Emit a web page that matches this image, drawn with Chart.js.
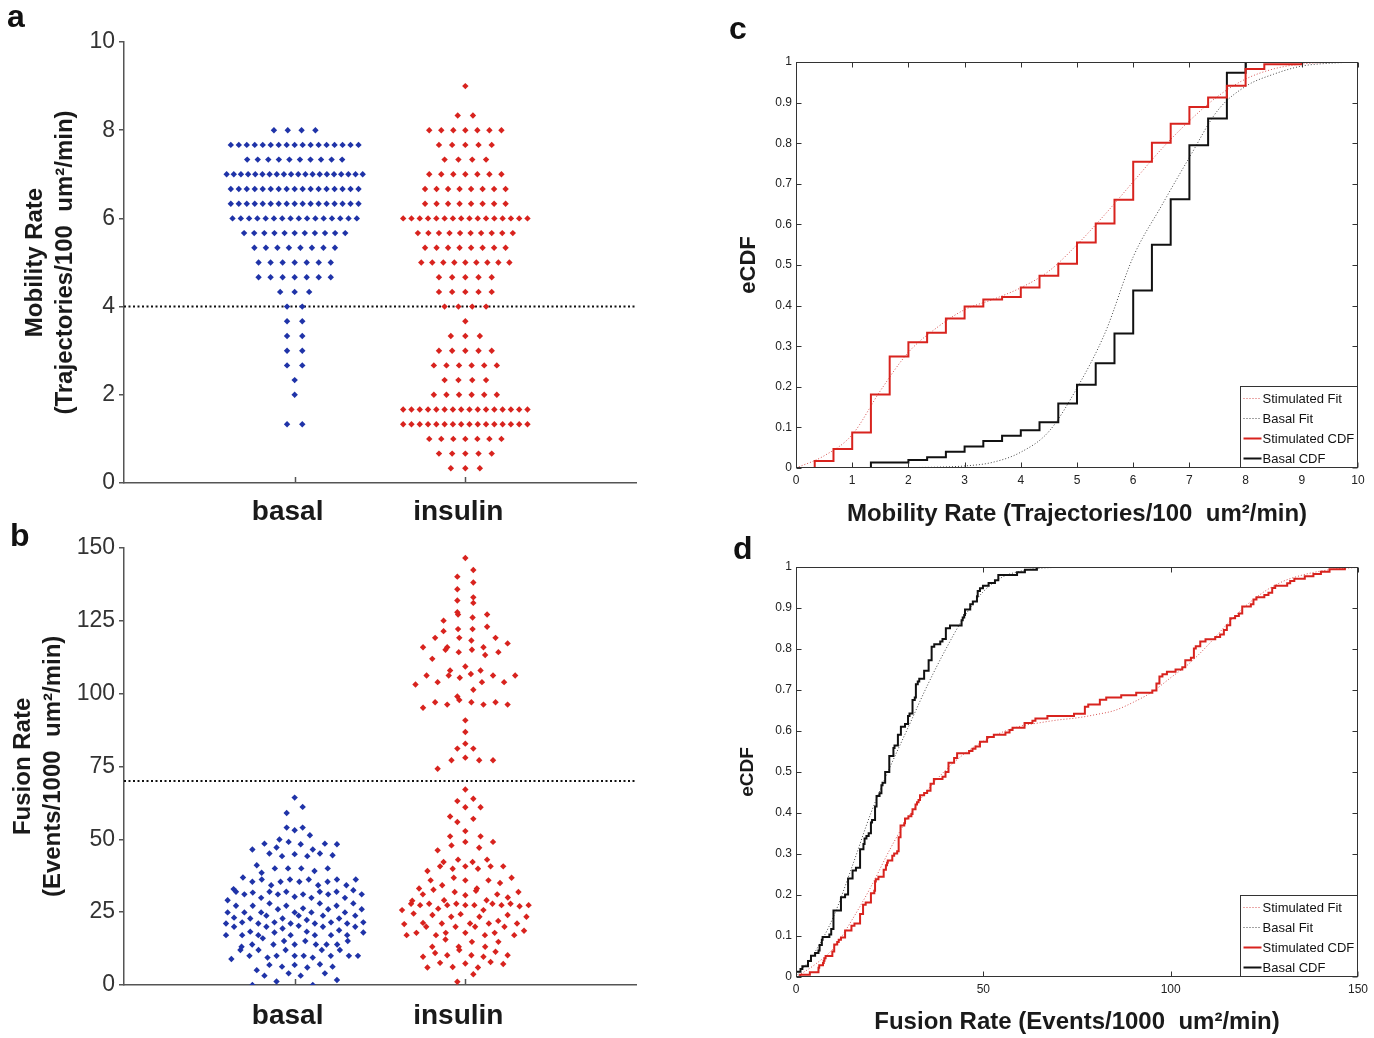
<!DOCTYPE html>
<html>
<head>
<meta charset="utf-8">
<script src="https://cdn.jsdelivr.net/npm/chart.js@4.4.1/dist/chart.umd.min.js"></script>
<style>
html,body{margin:0;padding:0;background:#fff;}
#fig{position:relative;width:1374px;height:1038px;overflow:hidden;background:#fff;}
canvas{position:absolute;}
.lab{position:absolute;font:bold 32px 'Liberation Sans',Arial,sans-serif;line-height:32px;color:#111;}
</style>
</head>
<body>
<div id="fig">
  <canvas id="ca" style="left:0;top:0" width="660" height="530"></canvas>
  <canvas id="cb" style="left:0;top:530px" width="660" height="508"></canvas>
  <canvas id="cc" style="left:700px;top:0" width="674" height="530"></canvas>
  <canvas id="cd" style="left:700px;top:530px" width="674" height="508"></canvas>
  <div class="lab" style="left:7px;top:0px">a</div>
  <div class="lab" style="left:10px;top:519px">b</div>
  <div class="lab" style="left:729px;top:12px">c</div>
  <div class="lab" style="left:733px;top:532px">d</div>
</div>
<script>
// ---------------- DATA ----------------
const groups = ['basal', 'insulin'];

// Panel a: mobility rate (discrete levels, trajectories/100 um²/min) and number of cells at each level
const basalMobilityLevels   = [1.333, 2, 2.333, 2.667, 3, 3.333, 3.667, 4, 4.333, 4.667, 5, 5.333, 5.667, 6, 6.333, 6.667, 7, 7.333, 7.667, 8];
const basalMobilityCounts   = [2, 1, 1, 2, 2, 2, 2, 2, 3, 7, 7, 8, 11, 16, 17, 17, 20, 10, 17, 4];
const insulinMobilityLevels = [0.333, 0.667, 1, 1.333, 1.667, 2, 2.333, 2.667, 3, 3.333, 3.667, 4, 4.333, 4.667, 5, 5.333, 5.667, 6, 6.333, 6.667, 7, 7.333, 7.667, 8, 8.333, 9];
const insulinMobilityCounts = [3, 5, 7, 16, 16, 6, 4, 6, 5, 3, 1, 4, 5, 5, 9, 8, 10, 16, 8, 8, 7, 4, 5, 7, 2, 1];
const mobilityThreshold = 4;

// Panel b: fusion rate (events/1000 um²/min), one value per cell
const basalFusion = [
  64.3, 61.1, 59.0, 54.0, 54.0, 53.1, 51.4, 49.9, 49.1, 48.5, 48.5, 48.3, 48.3, 47.2, 46.5, 46.5,
  45.1, 45.1, 44.9, 44.5, 44.2, 44.2, 41.1, 40.0, 40.0, 40.0, 40.0, 39.1, 38.5, 36.9, 36.2, 36.2,
  36.2, 36.2, 36.2, 35.4, 35.4, 35.4, 35.4, 34.2, 34.2, 34.2,
  31.1, 32.0, 32.0, 31.7, 32.0, 32.9, 31.1, 32.0, 30.3, 31.1, 32.5, 31.1, 32.0, 31.1,
  29.9, 29.9, 29.9, 28.0, 28.0, 28.0, 29.1, 27.2, 26.3, 27.2, 27.2, 27.2,
  26.0, 26.0, 24.9, 24.9, 23.8, 22.8, 23.8, 23.8, 22.8, 22.8, 26.0, 24.9, 24.9, 23.8, 24.9, 24.9, 23.1,
  21.5, 21.5, 21.1, 21.1, 21.5, 20.3, 21.1, 21.5, 19.4, 18.8, 22.3, 21.1, 21.1, 20.0, 20.0, 20.0, 20.0,
  18.3, 18.3, 17.1, 17.1, 18.0, 17.1, 16.0, 15.1, 18.0, 17.1, 17.1, 15.1, 17.1, 17.1, 15.1,
  13.9, 13.9, 12.0, 12.0, 12.0, 13.9, 13.9, 12.0, 13.9, 13.1, 13.9, 12.0,
  10.0, 9.4, 10.0, 10.0, 8.9, 9.4, 10.0, 10.0, 10.0, 10.0,
  6.9, 5.1, 6.0, 7.1, 6.3, 6.3, 6.9,
  4.0, 4.0, 1.7, 3.2, 1.2, 3.2, 0.0, 0.0
];
const insulinFusion = [
  146.5, 142.4, 140.1, 138.1, 135.8, 133.0, 131.1, 131.9, 127.1, 127.9, 127.1, 125.0, 122.9, 126.1,
  122.1, 122.1, 121.4, 119.1, 118.2, 119.1, 117.2, 119.1, 115.0, 115.9, 114.2, 115.9, 113.2, 115.9,
  114.2, 115.0, 111.9, 109.3, 107.9, 107.9, 103.9, 106.2, 106.7, 106.2, 103.9, 106.2, 103.9, 105.4,
  103.1, 106.2, 101.3, 99.0, 96.2, 97.0, 95.1, 96.2, 97.0, 96.2, 97.0, 97.8, 90.8, 86.8, 82.8, 81.1,
  81.1, 77.1, 77.1, 77.1, 78.0, 74.2,
  67.1, 63.9, 63.1, 61.0, 61.0, 57.0, 57.8, 55.9, 52.8, 51.0, 51.0, 49.1, 47.1, 47.9, 49.1, 46.2,
  43.0, 42.2, 43.0, 42.2, 39.1, 40.7, 39.9, 40.7, 39.9, 40.7, 40.7, 36.8, 35.9, 35.9, 35.9, 36.8,
  35.0, 34.2, 33.1, 31.9, 31.9, 32.3, 33.1, 32.7, 30.8, 31.1, 31.1, 30.0, 29.1, 28.9, 27.4, 27.9,
  27.4, 27.4, 29.1, 27.9, 27.4, 27.9, 27.4, 27.0, 27.9, 27.4, 27.9, 26.2, 24.0, 25.7, 23.4, 23.4,
  24.3, 23.4, 25.7, 22.0, 24.5, 24.0, 21.1, 21.3, 20.0, 20.0, 21.1, 21.1, 20.0, 20.9, 20.0, 21.1,
  17.9, 18.6, 17.1, 17.1, 17.9, 17.9, 17.9, 17.1, 17.1, 14.8, 15.6, 13.1, 13.1, 13.1, 14.8, 12.0,
  11.4, 11.0, 10.2, 7.2, 10.2, 7.9, 10.2, 9.7, 7.6, 7.4, 9.7, 6.0, 3.7, 6.0, 6.2, 1.1
];
const fusionThreshold = 70;

// Panel c: fitted CDF curves
const mobFitX        = [0, 0.5, 1, 1.5, 2, 2.5, 3, 3.5, 4, 4.5, 5, 5.5, 6, 6.5, 7, 7.5, 8, 8.5, 9, 9.5, 10];
const stimMobFit     = [0, 0.03, 0.082, 0.19, 0.285, 0.345, 0.39, 0.415, 0.444, 0.485, 0.55, 0.625, 0.705, 0.785, 0.855, 0.915, 0.958, 0.983, 0.995, 0.999, 1];
const basalMobFit    = [0, 0, 0, 0, 0.001, 0.002, 0.005, 0.014, 0.039, 0.09, 0.197, 0.333, 0.52, 0.645, 0.765, 0.88, 0.94, 0.97, 0.99, 0.997, 1];

// Panel d: fitted CDF curves
const fusFitX        = [0, 5, 10, 15, 20, 25, 30, 35, 40, 45, 50, 55, 60, 65, 70, 75, 80, 85, 90, 95, 100, 105, 110, 115, 120, 125, 130, 135, 140, 145, 150];
const stimFusFit     = [0, 0.03, 0.07, 0.14, 0.22, 0.31, 0.39, 0.455, 0.505, 0.545, 0.575, 0.597, 0.612, 0.62, 0.627, 0.632, 0.64, 0.65, 0.67, 0.695, 0.73, 0.765, 0.81, 0.86, 0.905, 0.94, 0.965, 0.98, 0.99, 0.996, 0.999];
const basalFusFit    = [0, 0.06, 0.147, 0.27, 0.40, 0.51, 0.61, 0.71, 0.80, 0.88, 0.94, 0.975, 0.99, 0.997, 0.999, 1];

const legendOrder = ['Stimulated Fit', 'Basal Fit', 'Stimulated CDF', 'Basal CDF'];

// ---------------- STYLE ----------------
const FONT = "'Liberation Sans', Arial, sans-serif";
const BLUE = '#1f33a8', RED = '#d8231e', BLACK = '#111111', AXC = '#555555';
Chart.defaults.font.family = FONT;
Chart.defaults.color = '#222';
Chart.defaults.animation = false;

// layout of the swarm panels (chart area size in px)
const SW_W = 512, B_H = 438;

// ---------------- helpers ----------------
function spanFor(n) { return 160 * (1 - Math.exp(-(n - 1) / 10)); }
function rowSpread(levels, counts, center, pxPerX) {
  const pts = [];
  levels.forEach((v, i) => {
    const n = counts[i];
    const span = spanFor(n);
    for (let k = 0; k < n; k++) {
      const off = n > 1 ? -span / 2 + k * span / (n - 1) : 0;
      pts.push({x: center + off / pxPerX, y: v});
    }
  });
  return pts;
}
// plotSpread-like layout: values binned vertically, each bin spread evenly across a width that grows with its count
function binSpread(values, center, pxPerX, pxPerY, binPx) {
  const bins = new Map();
  values.forEach(v => {
    const b = Math.floor(v * pxPerY / binPx);
    if (!bins.has(b)) bins.set(b, []);
    bins.get(b).push(v);
  });
  const pts = [];
  bins.forEach(arr => {
    arr.sort((a, b) => a - b);
    const n = arr.length;
    const span = spanFor(n) * 1.05;
    const order = arr.map((v, j) => ({j, k: (j * 0.618034) % 1})).sort((a, b) => a.k - b.k);
    order.forEach((o, slot) => {
      const off = n > 1 ? -span / 2 + slot * span / (n - 1) : 0;
      pts.push({x: center + off / pxPerX, y: arr[o.j]});
    });
  });
  return pts;
}
function cdfFromCounts(levels, counts) {
  const tot = counts.reduce((a, b) => a + b, 0);
  let c = 0;
  const pts = [{x: levels[0], y: 0}];
  levels.forEach((v, i) => { c += counts[i]; pts.push({x: v, y: c / tot}); });
  return pts;
}
function cdfFromValues(values) {
  const s = values.slice().sort((a, b) => a - b);
  const pts = [{x: s[0], y: 0}];
  s.forEach((v, i) => {
    if (i === s.length - 1 || s[i + 1] !== v) pts.push({x: v, y: (i + 1) / s.length});
  });
  return pts;
}
const fmt1 = v => String(+(+v).toFixed(1));

// ---------------- plugins ----------------
const catTicks = {
  id: 'catTicks',
  afterDraw(chart) {
    const {ctx, chartArea: a, scales: {x}} = chart;
    ctx.save(); ctx.strokeStyle = AXC; ctx.lineWidth = 1.5;
    x.ticks.forEach(t => {
      const px = Math.round(x.getPixelForValue(t.value)) + 0.5;
      ctx.beginPath(); ctx.moveTo(px, a.bottom); ctx.lineTo(px, a.bottom - 6); ctx.stroke();
    });
    ctx.restore();
  }
};
const frame = {
  id: 'frame',
  afterDatasetsDraw(chart) {
    const {ctx, chartArea: a, scales: {x, y}} = chart;
    ctx.save(); ctx.strokeStyle = '#333'; ctx.lineWidth = 1;
    const L = Math.round(a.left) + 0.5, R = Math.round(a.right) - 0.5, T = Math.round(a.top) + 0.5, B = Math.round(a.bottom) - 0.5;
    ctx.strokeRect(L, T, R - L, B - T);
    ctx.beginPath();
    x.ticks.forEach(t => {
      const px = Math.round(x.getPixelForValue(t.value)) + 0.5;
      ctx.moveTo(px, B); ctx.lineTo(px, B - 5); ctx.moveTo(px, T); ctx.lineTo(px, T + 5);
    });
    y.ticks.forEach(t => {
      const py = Math.round(y.getPixelForValue(t.value)) + 0.5;
      ctx.moveTo(L, py); ctx.lineTo(L + 5, py); ctx.moveTo(R, py); ctx.lineTo(R - 5, py);
    });
    ctx.stroke();
    ctx.restore();
  }
};
const boxLegend = {
  id: 'boxLegend',
  afterDraw(chart, args, opts) {
    const {ctx, chartArea: a} = chart;
    const w = 118, rowH = 20, h = 82;
    const x0 = Math.round(a.right - w) + 0.5, y0 = Math.round(a.bottom - h) + 0.5;
    ctx.save();
    ctx.fillStyle = '#fff'; ctx.fillRect(x0, y0, w, h);
    ctx.strokeStyle = '#333'; ctx.lineWidth = 1; ctx.strokeRect(x0, y0, w - 1, h - 1);
    ctx.font = "13px " + FONT; ctx.textBaseline = 'middle'; ctx.textAlign = 'left';
    opts.order.forEach((lab, i) => {
      const ds = chart.data.datasets.find(d => d.label === lab);
      const cy = y0 + 12 + i * rowH;
      ctx.strokeStyle = ds.borderColor; ctx.lineWidth = ds.borderWidth;
      ctx.setLineDash(ds.borderDash || []);
      ctx.beginPath(); ctx.moveTo(x0 + 3, cy); ctx.lineTo(x0 + 21, cy); ctx.stroke();
      ctx.setLineDash([]);
      ctx.fillStyle = '#111'; ctx.fillText(lab, x0 + 22, cy + 1);
    });
    ctx.restore();
  }
};

// ---------------- common scale builders ----------------
function swarmXScale(height, pad) {
  return {
    type: 'linear', min: 0, max: 3,
    afterBuildTicks(s) { s.ticks = [{value: 1}, {value: 2}]; },
    ticks: {callback: v => groups[v - 1], font: {size: 28, weight: 'bold'}, color: '#1a1a1a', padding: pad, maxRotation: 0, labelOffset: -7},
    grid: {drawOnChartArea: false, drawTicks: false},
    border: {display: true, color: AXC, width: 1.5},
    afterFit(s) { s.height = height; }
  };
}
function swarmYScale(max, step, titleLines, titlePad) {
  return {
    type: 'linear', min: 0, max: max,
    ticks: {stepSize: step, font: {size: 23}, color: '#333', padding: 4, callback: v => String(v)},
    grid: {drawOnChartArea: false, drawTicks: true, tickLength: 5, color: AXC, lineWidth: 1.5},
    border: {display: true, color: AXC, width: 1.5},
    title: {display: true, text: titleLines, font: {size: 24, weight: 'bold', lineHeight: 1.25}, color: '#1a1a1a', padding: {top: titlePad, bottom: 0}},
    afterFit(s) { s.width = 124; }
  };
}
function cdfScales(xmax, xstep, xTitle, xH, yTitle, ySize) {
  return {
    x: {
      type: 'linear', min: 0, max: xmax,
      ticks: {stepSize: xstep, font: {size: 12}, color: '#222', padding: 5, maxRotation: 0},
      grid: {display: false, drawTicks: false}, border: {display: false},
      title: {display: true, text: xTitle, font: {size: 24, weight: 'bold'}, color: '#1a1a1a', padding: {top: 0, bottom: 1}},
      afterFit(s) { s.height = xH; }
    },
    y: {
      type: 'linear', min: 0, max: 1,
      ticks: {stepSize: 0.1, font: {size: 12}, color: '#222', padding: 4, callback: fmt1},
      grid: {display: false, drawTicks: false}, border: {display: false},
      title: {display: true, text: yTitle, font: {size: ySize, weight: 'bold'}, color: '#1a1a1a', padding: {top: 36, bottom: 0}},
      afterFit(s) { s.width = 96; }
    }
  };
}
function pointDs(data, color) {
  return {data, showLine: false, pointStyle: 'rectRot', pointRadius: 3.2, pointBackgroundColor: color, pointBorderColor: color, pointBorderWidth: 0};
}
function threshDs(v) {
  return {data: [{x: 0, y: v}, {x: 3, y: v}], showLine: true, borderColor: '#111', borderWidth: 2, borderDash: [2, 2.5], pointRadius: 0};
}

// ---------------- panel a ----------------
const pxA = SW_W / 3;
new Chart(document.getElementById('ca'), {
  type: 'scatter',
  data: {datasets: [
    pointDs(rowSpread(basalMobilityLevels, basalMobilityCounts, 1, pxA), BLUE),
    pointDs(rowSpread(insulinMobilityLevels, insulinMobilityCounts, 2, pxA), RED),
    threshDs(mobilityThreshold)
  ]},
  options: {
    responsive: false, animation: false,
    layout: {padding: {top: 42, right: 24, left: 0, bottom: 0}},
    plugins: {legend: {display: false}, tooltip: {enabled: false}},
    scales: {
      x: swarmXScale(47, 12),
      y: swarmYScale(10, 2, ['Mobility Rate', '(Trajectories/100  um²/min)'], 20)
    }
  },
  plugins: [catTicks]
});

// ---------------- panel b ----------------
const pxB = SW_W / 3, pyB = B_H / 150;
new Chart(document.getElementById('cb'), {
  type: 'scatter',
  data: {datasets: [
    pointDs(binSpread(basalFusion, 1, pxB, pyB, 12), BLUE),
    pointDs(binSpread(insulinFusion, 2, pxB, pyB, 12), RED),
    threshDs(fusionThreshold)
  ]},
  options: {
    responsive: false, animation: false,
    layout: {padding: {top: 17, right: 24, left: 0, bottom: 0}},
    plugins: {legend: {display: false}, tooltip: {enabled: false}},
    scales: {
      x: swarmXScale(53, 14),
      y: swarmYScale(150, 25, ['Fusion Rate', '(Events/1000  um²/min)'], 8)
    }
  },
  plugins: [catTicks]
});

// ---------------- panels c, d ----------------
function cdfDatasets(stimCdf, basalCdf, fitX, stimFit, basalFit) {
  return [
    {label: 'Stimulated CDF', data: stimCdf, showLine: true, stepped: 'before', borderColor: RED, borderWidth: 2, pointRadius: 0},
    {label: 'Basal CDF', data: basalCdf, showLine: true, stepped: 'before', borderColor: BLACK, borderWidth: 2, pointRadius: 0},
    {label: 'Stimulated Fit', data: stimFit.map((v, i) => ({x: fitX[i], y: v})), showLine: true, cubicInterpolationMode: 'monotone', borderColor: '#d65050', borderWidth: 1, borderDash: [1, 2], pointRadius: 0},
    {label: 'Basal Fit', data: basalFit.map((v, i) => ({x: fitX[i], y: v})), showLine: true, cubicInterpolationMode: 'monotone', borderColor: '#444', borderWidth: 1, borderDash: [1, 2], pointRadius: 0}
  ];
}
new Chart(document.getElementById('cc'), {
  type: 'scatter',
  data: {datasets: cdfDatasets(
    cdfFromCounts(insulinMobilityLevels, insulinMobilityCounts),
    cdfFromCounts(basalMobilityLevels, basalMobilityCounts),
    mobFitX, stimMobFit, basalMobFit)},
  options: {
    responsive: false, animation: false,
    layout: {padding: {top: 62, right: 16, left: 0, bottom: 0}},
    plugins: {legend: {display: false}, tooltip: {enabled: false}, boxLegend: {order: legendOrder}},
    scales: cdfScales(10, 1, 'Mobility Rate (Trajectories/100  um²/min)', 62, 'eCDF', 22)
  },
  plugins: [frame, boxLegend]
});
new Chart(document.getElementById('cd'), {
  type: 'scatter',
  data: {datasets: cdfDatasets(
    cdfFromValues(insulinFusion),
    cdfFromValues(basalFusion),
    fusFitX, stimFusFit, basalFusFit)},
  options: {
    responsive: false, animation: false,
    layout: {padding: {top: 37, right: 16, left: 0, bottom: 0}},
    plugins: {legend: {display: false}, tooltip: {enabled: false}, boxLegend: {order: legendOrder}},
    scales: cdfScales(150, 50, 'Fusion Rate (Events/1000  um²/min)', 61, 'eCDF', 19)
  },
  plugins: [frame, boxLegend]
});
</script>
</body>
</html>
